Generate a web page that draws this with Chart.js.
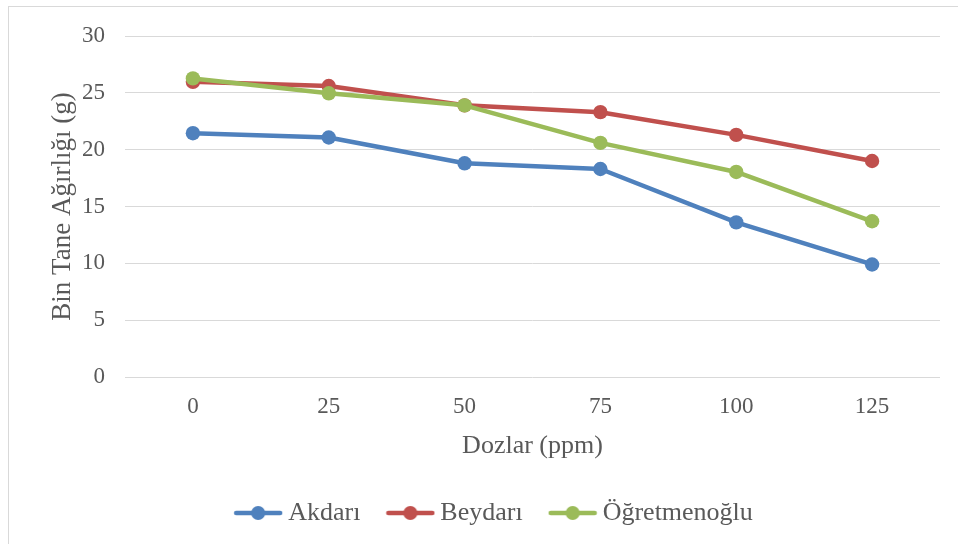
<!DOCTYPE html>
<html>
<head>
<meta charset="utf-8">
<script src="https://cdn.jsdelivr.net/npm/chart.js@4.4.0/dist/chart.umd.min.js"></script>
<style>
html,body{margin:0;padding:0;background:#fff;overflow:hidden;width:958px;height:544px}
#box{position:absolute;left:8px;top:6px;width:990px;height:560px;border-left:1px solid #d9d9d9;border-top:1px solid #d9d9d9}
#c{position:absolute;left:0;top:0}
</style>
</head>
<body>
<div id="box"><canvas id="c" width="976" height="537"></canvas></div>
<script>
// ── data ──
const DOZLAR = ['0', '25', '50', '75', '100', '125'];
const AKDARI = [21.45, 21.07, 18.8, 18.3, 13.6, 9.9];
const BEYDARI = [25.97, 25.6, 23.9, 23.3, 21.3, 19.0];
const OGRETMENOGLU = [26.27, 24.96, 23.9, 20.6, 18.04, 13.7];
const Y_TICKS = [0, 5, 10, 15, 20, 25, 30];

const SERIF = "'Liberation Serif','Times New Roman',serif";
const TXT = '#595959';
const COLORS = ['#4f81bd', '#c0504d', '#9bbb59'];

// legend swatch: line with a dot, like Excel
function swatch(color){
  const c = document.createElement('canvas');
  c.width = 50; c.height = 16;
  const g = c.getContext('2d');
  g.strokeStyle = color; g.lineWidth = 4.5; g.lineCap = 'round';
  g.beginPath(); g.moveTo(3, 8); g.lineTo(47, 8); g.stroke();
  g.fillStyle = color;
  g.beginPath(); g.arc(25, 8, 7, 0, Math.PI * 2); g.fill();
  return c;
}
const SW = COLORS.map(swatch);

const ds = (label, data, i, order) => ({
  label, data, order,
  borderColor: COLORS[i], backgroundColor: COLORS[i],
  borderWidth: 4.5, borderCapStyle: 'round', borderJoinStyle: 'round',
  pointRadius: 7.2, pointHoverRadius: 7.2, pointBorderWidth: 0,
  pointBackgroundColor: COLORS[i], tension: 0
});

new Chart(document.getElementById('c'), {
  type: 'line',
  data: {
    labels: DOZLAR,
    datasets: [
      ds('Akdarı', AKDARI, 0, 2),
      ds('Beydarı', BEYDARI, 1, 1),
      ds('Öğretmenoğlu', OGRETMENOGLU, 2, 0)
    ]
  },
  options: {
    responsive: false,
    devicePixelRatio: 1,
    animation: false,
    layout: { padding: { top: 29, left: 0, right: 0, bottom: 8 } },
    plugins: {
      tooltip: { enabled: false },
      legend: {
        position: 'bottom',
        labels: {
          usePointStyle: true,
          pointStyleWidth: 34,
          padding: 33,
          color: TXT,
          font: { family: SERIF, size: 26 },
          generateLabels: ch => ch.data.datasets.map((d, i) => ({
            text: d.label, pointStyle: SW[i], fillStyle: d.borderColor,
            strokeStyle: d.borderColor, lineWidth: 0, hidden: false,
            datasetIndex: i, fontColor: TXT
          }))
        }
      }
    },
    scales: {
      x: {
        type: 'category',
        offset: true,
        grid: { display: false },
        border: { display: false },
        ticks: { color: TXT, font: { family: SERIF, size: 23 }, padding: 8 },
        title: { display: true, text: 'Dozlar (ppm)', color: TXT,
                 font: { family: SERIF, size: 26 }, padding: { top: 0, bottom: 5 } },
        afterFit: s => { s.height = 90; }
      },
      y: {
        min: 0, max: 30,
        afterBuildTicks: s => { s.ticks = Y_TICKS.map(v => ({ value: v })); },
        grid: { color: '#d9d9d9', lineWidth: 1, drawTicks: false },
        border: { display: false },
        ticks: { color: TXT, font: { family: SERIF, size: 23 }, padding: 20 },
        title: { display: true, text: 'Bin Tane Ağırlığı (g)', color: TXT,
                 font: { family: SERIF, size: 27 }, padding: { top: 38, bottom: 0 } },
        afterFit: s => { s.width = 116; s.paddingTop = 0; s.paddingBottom = 0; }
      },
      yR: {
        position: 'right',
        grid: { display: false },
        border: { display: false },
        ticks: { display: false },
        afterFit: s => { s.width = 45; s.paddingTop = 0; s.paddingBottom = 0; }
      }
    }
  }
});
</script>
</body>
</html>
